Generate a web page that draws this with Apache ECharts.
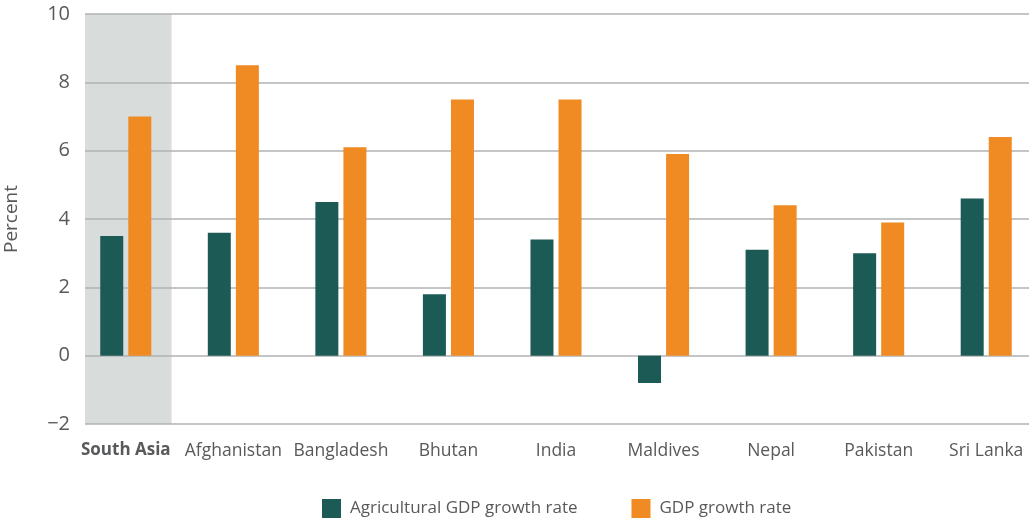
<!DOCTYPE html>
<html><head><meta charset="utf-8">
<script src="https://cdn.jsdelivr.net/npm/echarts@6/dist/echarts.min.js"></script>
<style>html,body{margin:0;padding:0;background:#fff}#c{width:1029px;height:520px}</style>
</head><body><div id="c"></div>
<script>
const categories = ['South Asia','Afghanistan','Bangladesh','Bhutan','India','Maldives','Nepal','Pakistan','Sri Lanka'];
const agriGrowth = [3.5, 3.6, 4.5, 1.8, 3.4, -0.8, 3.1, 3.0, 4.6];
const gdpGrowth  = [7.0, 8.5, 6.1, 7.5, 7.5, 5.9, 4.4, 3.9, 6.4];
const yTicks = {min: -2, max: 10, interval: 2};
const seriesNames = ['Agricultural GDP growth rate', 'GDP growth rate'];

(function () {
const FONT = 'Open Sans';
const TXT = '#58595b';
const chart = echarts.init(document.getElementById('c'));
chart.setOption({
  animation: false,
  textStyle: {fontFamily: FONT},
  grid: [
    {left: 85, right: 0, top: 14, bottom: 96, containLabel: false, outerBoundsMode: 'none'},
    {left: 72, width: 968, top: 14, bottom: 96, containLabel: false, outerBoundsMode: 'none'}
  ],
  xAxis: [
    {gridIndex: 0, type: 'category', data: categories, show: false},
    {gridIndex: 1, type: 'category', data: categories,
     axisLine: {show: false}, axisTick: {show: false},
     axisLabel: {interval: 0, margin: 18, fontSize: 17.5, color: TXT, fontFamily: FONT,
       formatter: v => v === categories[0] ? '{b|' + v + '}' : v,
       rich: {b: {fontWeight: 'bold', fontSize: 17, color: TXT, fontFamily: FONT}}}}
  ],
  yAxis: [
    {gridIndex: 0, type: 'value', min: yTicks.min, max: yTicks.max, interval: yTicks.interval,
     name: 'Percent', nameLocation: 'middle', nameGap: 64, nameRotate: 90,
     nameTextStyle: {fontSize: 19, color: TXT, fontFamily: FONT},
     axisLine: {show: false}, axisTick: {show: false},
     axisLabel: {fontSize: 20, color: TXT, margin: 15, fontFamily: FONT,
       formatter: v => v < 0 ? '\u2212' + Math.abs(v) : String(v)},
     splitLine: {lineStyle: {color: '#b1b2b4', width: 1.5}}},
    {gridIndex: 1, type: 'value', min: yTicks.min, max: yTicks.max, interval: yTicks.interval, show: false,
     splitLine: {show: false}}
  ],
  legend: {
    bottom: -3, left: 317, itemWidth: 19, itemHeight: 19, itemGap: 54,
    icon: 'rect',
    textStyle: {fontSize: 17, color: TXT, fontFamily: FONT, padding: [0, 0, 0, 4]},
    data: seriesNames
  },
  series: [
    {name: seriesNames[0], type: 'bar', xAxisIndex: 1, yAxisIndex: 1, data: agriGrowth,
     barWidth: 23, barGap: '22%', itemStyle: {color: '#1c5a55'}, z: 3},
    {name: seriesNames[1], type: 'bar', xAxisIndex: 1, yAxisIndex: 1, data: gdpGrowth,
     barWidth: 23, barGap: '22%', itemStyle: {color: '#ef8b22'}, z: 3}
  ]
});
// shaded background band behind the "South Asia" group
const yTop = chart.convertToPixel({gridIndex: 0}, [0, yTicks.max])[1];
const yBot = chart.convertToPixel({gridIndex: 0}, [0, yTicks.min])[1];
const cx = chart.convertToPixel({gridIndex: 1}, [categories[0], 0])[0];
const gLeft = 85;
chart.setOption({graphic: [{type: 'rect', z: -1, silent: true,
  shape: {x: gLeft, y: yTop, width: (cx - gLeft) * 2 + 5, height: yBot - yTop},
  style: {fill: '#d8dcdb'}}]});
})();
</script></body></html>
